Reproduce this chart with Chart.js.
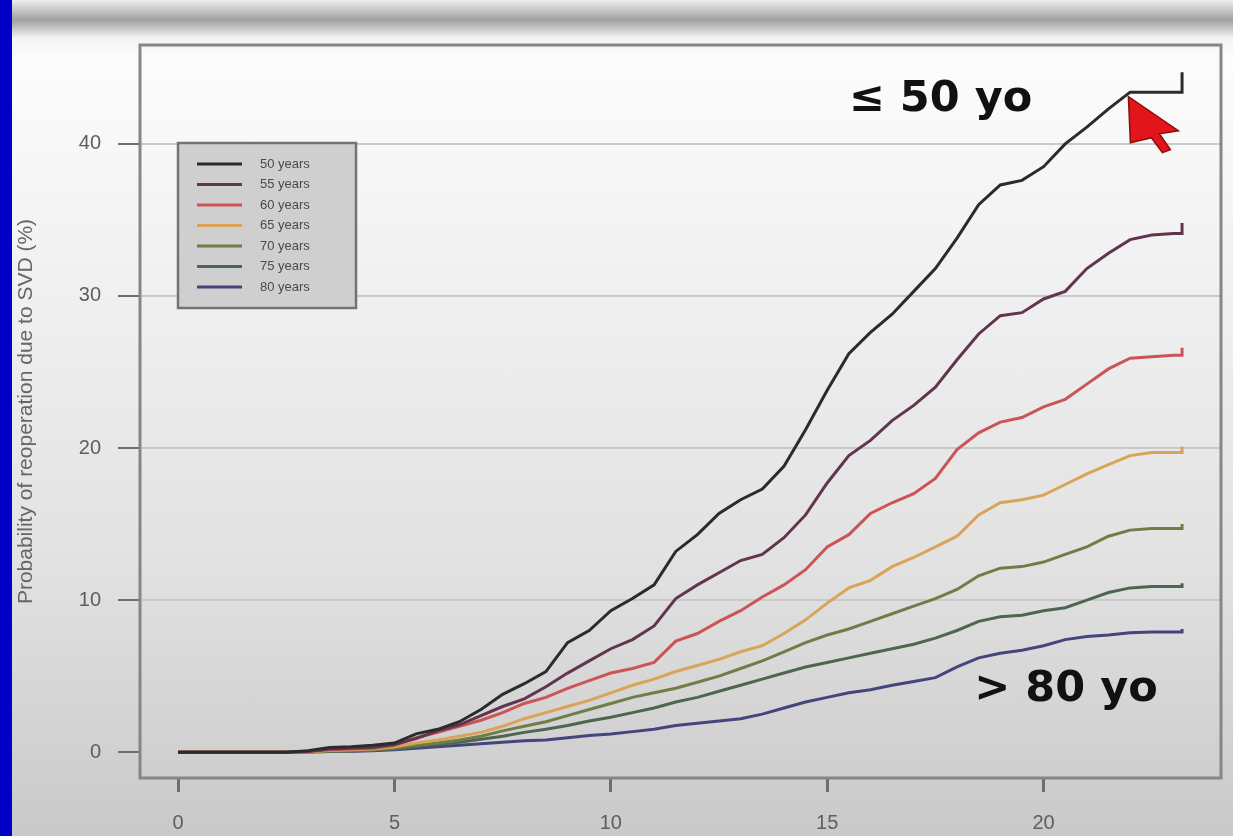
<!DOCTYPE html>
<html>
<head>
<meta charset="utf-8">
<title>Reoperation due to SVD by age</title>
<script src="https://cdn.jsdelivr.net/npm/chart.js@4.4.1/dist/chart.umd.min.js"></script>
<style>
  html, body { margin: 0; padding: 0; }
  body {
    width: 1233px; height: 836px; overflow: hidden; position: relative;
    background: linear-gradient(to bottom, #eeeeee 0px, #a0a0a0 20px, #f4f4f4 38px, #fcfcfc 60px, #e2e2e2 560px, #c9c9c9 836px);
  }
  #blue { position: absolute; left: 0; top: 0; width: 12px; height: 836px; background: #0000c6; }
  #trendChart { position: absolute; left: 0; top: 0; }
</style>
</head>
<body>
<div id="blue"></div>
<canvas id="trendChart" width="1233" height="836"></canvas>
<script>
// years after surgery (last time repeated: the curves jump at the end of follow-up)
const years = [0, 0.5, 1, 1.5, 2, 2.5, 3, 3.5, 4, 4.5, 5, 5.5, 6, 6.5, 7, 7.5, 8, 8.5, 9, 9.5,
  10, 10.5, 11, 11.5, 12, 12.5, 13, 13.5, 14, 14.5, 15, 15.5, 16, 16.5, 17, 17.5, 18, 18.5, 19, 19.5,
  20, 20.5, 21, 21.5, 22, 22.5, 23, 23.2, 23.2];

// probability of reoperation (%) per age group
const age50 = [0, 0, 0, 0, 0, 0, 0.1, 0.3, 0.35, 0.45, 0.6, 1.2, 1.5, 2.0, 2.8, 3.8, 4.5, 5.3, 7.2, 8.0,
  9.3, 10.1, 11.0, 13.2, 14.3, 15.7, 16.6, 17.3, 18.8, 21.2, 23.8, 26.2, 27.6, 28.8, 30.3, 31.8, 33.8, 36.0, 37.3, 37.6,
  38.5, 40.0, 41.1, 42.3, 43.4, 43.4, 43.4, 43.4, 44.7];
const age55 = [0, 0, 0, 0, 0, 0, 0.05, 0.2, 0.25, 0.3, 0.5, 0.9, 1.4, 1.8, 2.4, 3.0, 3.5, 4.3, 5.2, 6.0,
  6.8, 7.4, 8.3, 10.1, 11.0, 11.8, 12.6, 13.0, 14.1, 15.6, 17.7, 19.5, 20.5, 21.8, 22.8, 24.0, 25.8, 27.5, 28.7, 28.9,
  29.8, 30.3, 31.8, 32.8, 33.7, 34.0, 34.1, 34.1, 34.8];
const age60 = [0, 0, 0, 0, 0, 0, 0.05, 0.15, 0.2, 0.25, 0.45, 0.95, 1.3, 1.7, 2.1, 2.6, 3.2, 3.6, 4.2, 4.7,
  5.2, 5.5, 5.9, 7.3, 7.8, 8.6, 9.3, 10.2, 11.0, 12.0, 13.5, 14.3, 15.7, 16.4, 17.0, 18.0, 19.9, 21.0, 21.7, 22.0,
  22.7, 23.2, 24.2, 25.2, 25.9, 26.0, 26.1, 26.1, 26.6];
const age65 = [0, 0, 0, 0, 0, 0, 0.03, 0.1, 0.15, 0.2, 0.35, 0.6, 0.8, 1.05, 1.3, 1.7, 2.2, 2.6, 3.0, 3.4,
  3.9, 4.4, 4.8, 5.3, 5.7, 6.1, 6.6, 7.0, 7.8, 8.7, 9.8, 10.8, 11.3, 12.2, 12.8, 13.5, 14.2, 15.6, 16.4, 16.6,
  16.9, 17.6, 18.3, 18.9, 19.5, 19.7, 19.7, 19.7, 20.1];
const age70 = [0, 0, 0, 0, 0, 0, 0.02, 0.07, 0.1, 0.15, 0.25, 0.45, 0.6, 0.8, 1.05, 1.4, 1.7, 2.0, 2.4, 2.8,
  3.2, 3.6, 3.9, 4.2, 4.6, 5.0, 5.5, 6.0, 6.6, 7.2, 7.7, 8.1, 8.6, 9.1, 9.6, 10.1, 10.7, 11.6, 12.1, 12.2,
  12.5, 13.0, 13.5, 14.2, 14.6, 14.7, 14.7, 14.7, 15.0];
const age75 = [0, 0, 0, 0, 0, 0, 0.02, 0.05, 0.08, 0.12, 0.2, 0.35, 0.5, 0.65, 0.85, 1.05, 1.3, 1.5, 1.75, 2.05,
  2.3, 2.6, 2.9, 3.3, 3.6, 4.0, 4.4, 4.8, 5.2, 5.6, 5.9, 6.2, 6.5, 6.8, 7.1, 7.5, 8.0, 8.6, 8.9, 9.0,
  9.3, 9.5, 10.0, 10.5, 10.8, 10.9, 10.9, 10.9, 11.1];
const age80 = [0, 0, 0, 0, 0, 0, 0.01, 0.04, 0.06, 0.1, 0.15, 0.25, 0.35, 0.45, 0.55, 0.65, 0.75, 0.8, 0.95, 1.1,
  1.2, 1.35, 1.5, 1.75, 1.9, 2.05, 2.2, 2.5, 2.9, 3.3, 3.6, 3.9, 4.1, 4.4, 4.65, 4.9, 5.6, 6.2, 6.5, 6.7,
  7.0, 7.4, 7.6, 7.7, 7.85, 7.9, 7.9, 7.9, 8.1];

const groupLabels = ['50 years', '55 years', '60 years', '65 years', '70 years', '75 years', '80 years'];
const groupValues = [age50, age55, age60, age65, age70, age75, age80];
const groupColors = ['#2b2b2b', '#633450', '#cc5457', '#d9a458', '#6f7e46', '#4d664f', '#44457c'];

const xTicks = [0, 5, 10, 15, 20];
const yTicks = [0, 10, 20, 30, 40];
const yTitle = 'Probability of reoperation due to SVD (%)';

// legend box, big labels and the mouse pointer on top of the plot
const decorPlugin = {
    id: 'decor',
    afterDatasetsDraw(chart) {
        const { ctx, chartArea: a, scales: { x, y } } = chart;
        ctx.save();

        ctx.strokeStyle = '#868686';
        ctx.lineWidth = 3;
        ctx.strokeRect(a.left, a.top, a.right - a.left, a.bottom - a.top);

        // legend
        const lx = a.left + 38, ly = a.top + 98;
        ctx.fillStyle = '#cfcfcf';
        ctx.fillRect(lx, ly, 178, 165);
        ctx.strokeStyle = '#737373';
        ctx.lineWidth = 2.5;
        ctx.strokeRect(lx, ly, 178, 165);
        ctx.font = '13px "Liberation Sans"';
        ctx.textBaseline = 'middle';
        chart.data.datasets.forEach((ds, i) => {
            const ry = ly + 21 + i * 20.5;
            ctx.strokeStyle = ds.borderColor;
            ctx.lineWidth = 3;
            ctx.beginPath();
            ctx.moveTo(lx + 19, ry);
            ctx.lineTo(lx + 64, ry);
            ctx.stroke();
            ctx.fillStyle = '#4a4a4a';
            ctx.fillText(ds.label, lx + 82, ry);
        });

        // annotations
        ctx.fillStyle = '#111';
        ctx.font = 'bold 43px "DejaVu Sans"';
        ctx.fillText('≤ 50 yo', x.getPixelForValue(15.5), y.getPixelForValue(42.9));
        ctx.fillText('> 80 yo', x.getPixelForValue(18.4), y.getPixelForValue(4.1));

        // red pointer
        const px = x.getPixelForValue(21.96), py = y.getPixelForValue(43.1);
        ctx.fillStyle = '#e3141a';
        ctx.strokeStyle = '#8a1010';
        ctx.lineWidth = 1.5;
        ctx.beginPath();
        ctx.moveTo(px, py);
        ctx.lineTo(px + 50, py + 34);
        ctx.lineTo(px + 31, py + 37);
        ctx.lineTo(px + 42, py + 53);
        ctx.lineTo(px + 34, py + 56);
        ctx.lineTo(px + 23, py + 41);
        ctx.lineTo(px + 2, py + 46);
        ctx.closePath();
        ctx.fill();
        ctx.stroke();

        ctx.restore();
    }
};

const ctx = document.getElementById('trendChart').getContext('2d');
const myChart = new Chart(ctx, {
    type: 'line',
    data: {
        datasets: groupValues.map((vals, i) => ({
            label: groupLabels[i],
            data: years.map((yr, j) => ({ x: yr, y: vals[j] })),
            borderColor: groupColors[i],
            borderWidth: 3,
            pointRadius: 0,
            tension: 0,
            fill: false
        }))
    },
    options: {
        responsive: false,
        animation: false,
        layout: { padding: { left: 12, top: 45, right: 12, bottom: 0 } },
        plugins: {
            legend: { display: false },
            tooltip: { enabled: false }
        },
        scales: {
            x: {
                type: 'linear',
                min: -0.88,
                max: 24.1,
                afterBuildTicks: axis => { axis.ticks = xTicks.map(v => ({ value: v })); },
                afterFit: axis => { axis.height = 58; },
                border: { display: false },
                grid: { drawOnChartArea: false, tickLength: 14, tickColor: '#6e6e6e', lineWidth: 3 },
                ticks: {
                    padding: 19,
                    color: '#5e5e5e',
                    font: { family: 'Liberation Sans', size: 20 }
                }
            },
            y: {
                min: -1.7,
                max: 46.5,
                afterBuildTicks: axis => { axis.ticks = yTicks.map(v => ({ value: v })); },
                afterFit: axis => { axis.width = 128; },
                border: { display: false },
                grid: {
                    color: c => (c.tick && c.tick.value === 0) ? 'rgba(0,0,0,0)' : '#c9c9c9',
                    lineWidth: 2,
                    tickLength: 22,
                    tickColor: '#6e6e6e'
                },
                ticks: {
                    padding: 17,
                    color: '#5e5e5e',
                    font: { family: 'Liberation Sans', size: 20 }
                },
                title: {
                    display: true,
                    text: yTitle,
                    color: '#666666',
                    font: { family: 'Liberation Sans', size: 21 },
                    padding: { top: 2, bottom: 0 }
                }
            }
        }
    },
    plugins: [decorPlugin]
});
</script>
</body>
</html>
